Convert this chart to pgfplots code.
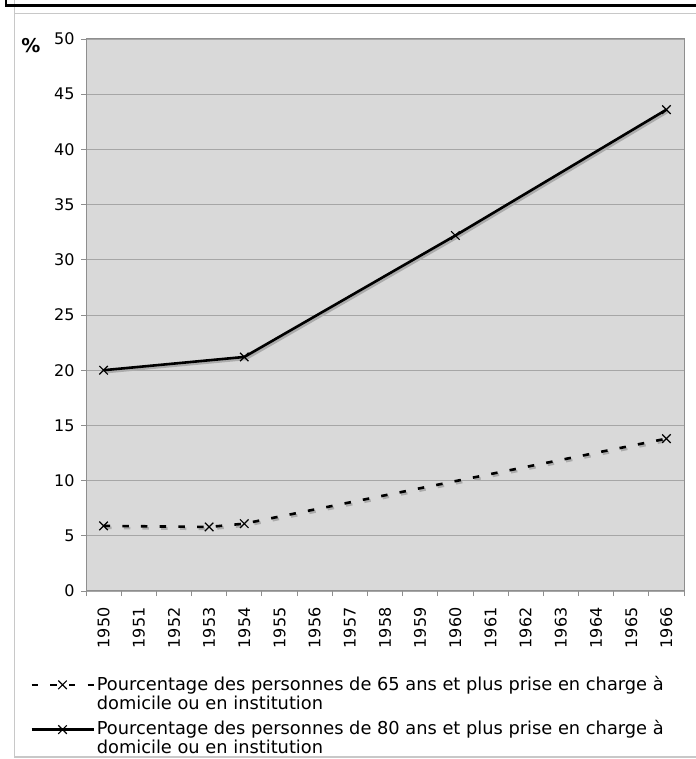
\documentclass[border=0pt]{standalone}
\usepackage{fontspec}
\setmainfont{DejaVu Sans}
\usepackage{pgfplots}
\pgfplotsset{compat=1.18}
\definecolor{plotbg}{HTML}{D9D9D9}
\definecolor{gridc}{HTML}{A6A6A6}
\definecolor{axc}{HTML}{8E8E8E}
\definecolor{shadowc}{HTML}{ABABAB}
\definecolor{framegray}{HTML}{C8C8C8}

\pgfplotstableread{
year val
1950 5.9
1953 5.8
1954 6.1
1966 13.8
}\tabA
\pgfplotstableread{
year val
1950 20.0
1954 21.2
1960 32.2
1966 43.6
}\tabB

\begin{document}
\begin{tikzpicture}[x=1pt,y=1pt]
\useasboundingbox (0,0) rectangle (695,759);
\draw[framegray, line width=1.5pt] (14.5,770) -- (14.5,2) -- (700,2);
\draw[framegray, line width=1.5pt] (14.5,745.5) -- (700,745.5);
\draw[black, line width=2.5pt] (6,770) -- (6,753.5) -- (700,753.5);
\node[font=\bfseries\fontsize{19}{22}\selectfont] at (31,713) {\%};
\begin{axis}[
  at={(86pt,168pt)}, anchor=south west,
  scale only axis, width=598pt, height=552pt,
  xmin=1949.5, xmax=1966.5, ymin=0, ymax=50,
  xtick={1950,...,1966}, ytick={0,5,...,50},
  minor xtick={1949.5,1950.5,...,1966.5},
  xtick pos=bottom, ytick pos=left,
  tick align=outside,
  major tick length=5pt, minor tick length=5pt,
  tick style={axc, line width=0.8pt},
  major x tick style={draw=none},
  axis background/.style={fill=plotbg},
  axis line style={axc, line width=1pt},
  ymajorgrids, grid style={gridc, line width=0.8pt},
  /pgf/number format/assume math mode=true,
  /pgf/number format/1000 sep={},
  ticklabel style={font=\fontsize{16}{19}\selectfont, black},
  x tick label style={yshift=-8pt, rotate=90, anchor=east},
  y tick label style={xshift=-3pt},
  legend style={at={(-0.0936,-0.150)}, anchor=north west, draw=none, fill=none,
    font=\fontsize{17.8}{19}\selectfont, cells={anchor=west, align=left},
    row sep=6pt, inner sep=0pt},
  legend cell align=left,
  legend image code/.code={\draw[mark repeat=2,mark phase=2,#1] plot coordinates {(0pt,8.5pt)(31pt,8.5pt)(62pt,8.5pt)};},
]
\addplot[shadowc, line width=2.6pt, dash pattern=on 6.5pt off 12.2pt, xshift=1.5pt, yshift=-2pt, forget plot] table[x=year,y=val] {\tabA};
\addplot[shadowc, line width=2.6pt, xshift=1.5pt, yshift=-2pt, forget plot] table[x=year,y=val] {\tabB};
\addplot[black, line width=2.6pt, dash pattern=on 6.5pt off 12.2pt, mark=x, mark size=6pt, mark options={solid, line width=1.2pt}] table[x=year,y=val] {\tabA};
\addlegendentry{Pourcentage des personnes de 65 ans et plus prise en charge à\\domicile ou en institution}
\addplot[black, line width=2.6pt, mark=x, mark size=6pt, mark options={solid, line width=1.2pt}] table[x=year,y=val] {\tabB};
\addlegendentry{Pourcentage des personnes de 80 ans et plus prise en charge à\\domicile ou en institution}
\end{axis}
\end{tikzpicture}
\end{document}
